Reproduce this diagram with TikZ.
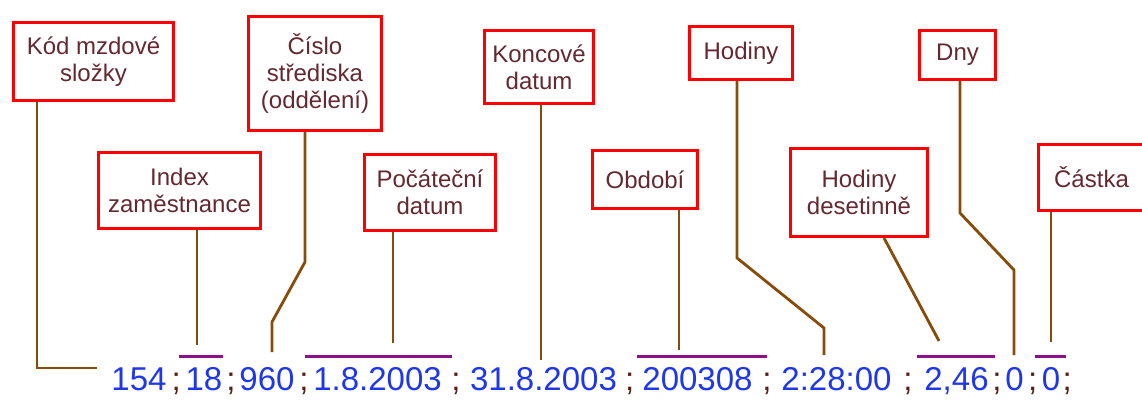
\documentclass[tikz,border=0pt]{standalone}
\usepackage{fontspec}
\setmainfont{Liberation Sans}
\usetikzlibrary{positioning,calc}
\definecolor{mzRed}{RGB}{255,0,0}
\definecolor{mzText}{RGB}{100,40,48}
\definecolor{mzBlue}{RGB}{30,55,235}
\definecolor{mzSemi}{RGB}{90,30,20}
\definecolor{mzLead}{RGB}{135,75,10}
\definecolor{mzBar}{RGB}{140,15,140}

\begin{document}
\begin{tikzpicture}[x=1pt,y=-1pt,
  namebox/.style={draw=mzRed, line width=3pt, fill=white, text=mzText, align=center,
    font=\fontsize{24}{27}\selectfont, inner sep=0pt},
  field/.style={anchor=base, inner sep=0pt, text=mzBlue, font=\fontsize{33}{39}\selectfont},
  semi/.style={anchor=base, inner sep=0pt, text=mzSemi, font=\fontsize{33}{39}\selectfont},
  lead/.style={mzLead, line width=2.8pt},
  ubar/.style={mzBar, line width=3pt}]

  \fill[white] (0,0) rectangle (1142,403);
  \useasboundingbox (0,0) rectangle (1142,403);

  % labels, upper row
  \node[namebox, minimum width=160, minimum height=78] (kod) at (93.5,62) {Kód mzdové\\složky};
  \node[namebox, minimum width=133, minimum height=114] (cislo) at (315,73.5) {Číslo\\střediska\\(oddělení)};
  \node[namebox, minimum width=109, minimum height=73] (konc) at (539,67) {Koncové\\datum};
  \node[namebox, minimum width=103, minimum height=53] (hod) at (741,53) {Hodiny};
  \node[namebox, minimum width=76, minimum height=49] (dny) at (957.5,55) {Dny};

  % labels, lower row
  \node[namebox, minimum width=162, minimum height=76] (idx) at (179.5,190.5) {Index\\zaměstnance};
  \node[namebox, minimum width=131, minimum height=76] (pocat) at (430,192.5) {Počáteční\\datum};
  \node[namebox, minimum width=105, minimum height=58] (obd) at (645,179.5) {Období};
  \node[namebox, minimum width=137, minimum height=88] (hdes) at (859,192.5) {Hodiny\\desetinně};
  \node[namebox, minimum width=106, minimum height=66] (castka) at (1091.5,177.5) {Částka};

  % the record line
  \node[field] (n1) at (139,390) {154};
  \node[field] (n2) at (204,390) {18};
  \node[field] (n3) at (267,390) {960};
  \node[field] (n4) at (377.5,390) {1.8.2003};
  \node[field] (n5) at (543.5,390) {31.8.2003};
  \node[field] (n6) at (697.5,390) {200308};
  \node[field] (n7) at (836.5,390) {2:28:00};
  \node[field] (n8) at (956.5,390) {2,46};
  \node[field] (n9) at (1014.5,390) {0};
  \node[field] (n10) at (1051,390) {0};
  \foreach \a/\b [count=\i] in {n1/n2, n2/n3, n3/n4, n4/n5, n5/n6, n6/n7, n7/n8, n8/n9, n9/n10}
    \node[semi] (s\i) at ($(\a.base east)!0.5!(\b.base west)$) {;};
  \node[semi, anchor=base west] (s10) at ([xshift=2pt]n10.base east) {;};

  % bars over the fields
  \foreach \n/\l/\r in {n2/6/0, n4/8/10, n6/5/14, n8/7/6, n10/7/6}
    \draw[ubar] ([xshift=-\l pt,yshift=10pt]\n.north west) -- ([xshift=\r pt,yshift=10pt]\n.north east);

  % leaders
  \coordinate (t1) at (97,368);
  \coordinate (t2) at (197,345);
  \coordinate (t3) at (272,352);
  \coordinate (t4) at (393,343);
  \coordinate (t5) at (541,360);
  \coordinate (t6) at (679,350);
  \coordinate (t7) at (824,355);
  \coordinate (t8) at (939,341);
  \coordinate (t9) at (1014,355);
  \coordinate (t10) at (1051,342);
  \draw[lead] ([xshift=25pt]kod.south west) |- (t1);
  \draw[lead] (idx.south -| t2) -- (t2);
  \draw[lead] ([xshift=-10pt]cislo.south) -- ++(0,130) -- ([yshift=30pt]t3) -- (t3);
  \draw[lead] (pocat.south -| t4) -- (t4);
  \draw[lead] (konc.south -| t5) -- (t5);
  \draw[lead] (obd.south -| t6) -- (t6);
  \draw[lead] ([xshift=-4pt]hod.south) -- ++(0,177) -- ([yshift=27pt]t7) -- (t7);
  \draw[lead] ([xshift=25pt]hdes.south) -- (t8);
  \draw[lead] ([xshift=2.5pt]dny.south) -- ++(0,132) -- ([yshift=85pt]t9) -- (t9);
  \draw[lead] (castka.south -| t10) -- (t10);
\end{tikzpicture}
\end{document}
